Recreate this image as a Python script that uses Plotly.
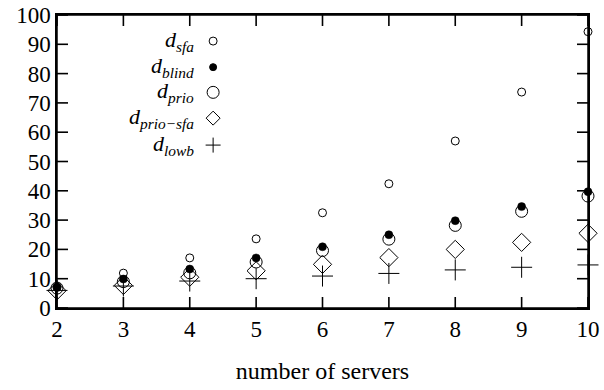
import plotly.graph_objects as go

servers = [2, 3, 4, 5, 6, 7, 8, 9, 10]
d_sfa = [7.0, 11.9, 17.1, 23.6, 32.5, 42.4, 57.0, 73.7, 94.3]
d_blind = [7.2, 9.9, 13.3, 17.1, 20.9, 25.0, 29.8, 34.6, 39.7]
d_prio = [6.8, 9.0, 12.0, 15.7, 19.6, 23.5, 28.2, 33.0, 38.2]
d_prio_sfa = [5.9, 7.7, 10.5, 12.7, 14.9, 17.2, 20.0, 22.4, 25.5]
d_lowb = [6.0, 7.5, 9.2, 10.0, 10.9, 11.8, 13.0, 13.9, 14.7]

labels = ["<i>d</i><sub><i>sfa</i></sub>", "<i>d</i><sub><i>blind</i></sub>",
          "<i>d</i><sub><i>prio</i></sub>", "<i>d</i><sub><i>prio−sfa</i></sub>",
          "<i>d</i><sub><i>lowb</i></sub>"]
y_ticks = list(range(0, 101, 10))
x_ticks = servers

FONT = "Liberation Serif"
W, H = 604, 390
ML, MR, MT, MB = 57, 16, 15, 82
PW, PH = W - ML - MR, H - MT - MB
TICKLEN = 11

styles = [
    dict(symbol="circle-open", size=8, color="black", line=dict(width=1, color="black")),
    dict(symbol="circle", size=8, color="black", line=dict(width=0.5, color="black")),
    dict(symbol="circle-open", size=12, color="black", line=dict(width=1, color="black")),
    dict(symbol="diamond-open", size=14, color="black", line=dict(width=1, color="black")),
    dict(symbol="cross-thin-open", size=15, color="black", line=dict(width=1, color="black")),
]
series = [d_sfa, d_blind, d_prio, d_prio_sfa, d_lowb]

fig = go.Figure()
for lab, ys, st in zip(labels, series, styles):
    fig.add_trace(go.Scatter(x=servers, y=ys, mode="markers", name=lab,
                             marker=st, cliponaxis=False, showlegend=False))

# frame
shapes = [dict(type="rect", xref="paper", yref="paper", x0=0, x1=1, y0=0, y1=1,
               line=dict(color="black", width=1.5), layer="above")]

# inward ticks on all four sides, placed through the axes from the tick arrays
tick_line = dict(color="black", width=1.6)
for v in x_ticks:
    shapes.append(dict(type="line", xref="x", yref="paper", x0=v, x1=v,
                       ysizemode="pixel", yanchor=0, y0=0, y1=TICKLEN,
                       line=tick_line, layer="above"))
    shapes.append(dict(type="line", xref="x", yref="paper", x0=v, x1=v,
                       ysizemode="pixel", yanchor=1, y0=-TICKLEN, y1=0,
                       line=tick_line, layer="above"))
for v in y_ticks:
    shapes.append(dict(type="line", yref="y", xref="paper", y0=v, y1=v,
                       xsizemode="pixel", xanchor=0, x0=0, x1=TICKLEN,
                       line=tick_line, layer="above"))
    shapes.append(dict(type="line", yref="y", xref="paper", y0=v, y1=v,
                       xsizemode="pixel", xanchor=1, x0=-TICKLEN, x1=0,
                       line=tick_line, layer="above"))

# custom key (gnuplot style: right-aligned text, symbol on the right)
key_x_text = 0.262
key_x_sym = 0.294
key_y = [0.911, 0.822, 0.736, 0.648, 0.556]
annotations = []
for i, lab in enumerate(labels):
    annotations.append(dict(x=key_x_text, y=key_y[i], xref="paper", yref="paper",
                            text=lab, showarrow=False, xanchor="right", yanchor="middle",
                            font=dict(family=FONT, size=22, color="black")))


def px(dx, dy):
    return dx / PW, dy / PH


def circ(cy, r, fill=None):
    rx, ry = px(r, r)
    d = dict(type="circle", xref="paper", yref="paper",
             x0=key_x_sym - rx, x1=key_x_sym + rx, y0=cy - ry, y1=cy + ry,
             line=dict(color="black", width=1))
    if fill:
        d["fillcolor"] = fill
    return d


shapes.append(circ(key_y[0], 4))
shapes.append(circ(key_y[1], 3.5, "black"))
shapes.append(circ(key_y[2], 6))
rx, ry = px(7, 7)
cx, cy = key_x_sym, key_y[3]
shapes.append(dict(type="path", xref="paper", yref="paper",
                   path=f"M {cx-rx} {cy} L {cx} {cy+ry} L {cx+rx} {cy} L {cx} {cy-ry} Z",
                   line=dict(color="black", width=1)))
rx, ry = px(7.5, 7.5)
cy = key_y[4]
shapes.append(dict(type="line", xref="paper", yref="paper", x0=cx - rx, x1=cx + rx,
                   y0=cy, y1=cy, line=dict(color="black", width=1)))
shapes.append(dict(type="line", xref="paper", yref="paper", x0=cx, x1=cx,
                   y0=cy - ry, y1=cy + ry, line=dict(color="black", width=1)))

axis_common = dict(showgrid=False, zeroline=False, showline=True, linecolor="black",
                   linewidth=1.5, mirror=True, ticks="", automargin=False,
                   tickfont=dict(family=FONT, size=23, color="black"))

fig.update_layout(
    template="none",
    width=W, height=H, margin=dict(l=ML, r=MR, t=MT, b=MB),
    plot_bgcolor="white", paper_bgcolor="white",
    shapes=shapes, annotations=annotations,
    xaxis=dict(range=[2, 10], tickmode="array", tickvals=x_ticks,
               title=dict(text="number of servers", standoff=21,
                          font=dict(family=FONT, size=24, color="black")),
               **axis_common),
    yaxis=dict(range=[0, 100], tickmode="array", tickvals=y_ticks, **axis_common),
)
fig.write_html("out.html", config={"displayModeBar": False},
               post_script="document.body.style.margin='0';document.body.style.overflow='hidden';")
